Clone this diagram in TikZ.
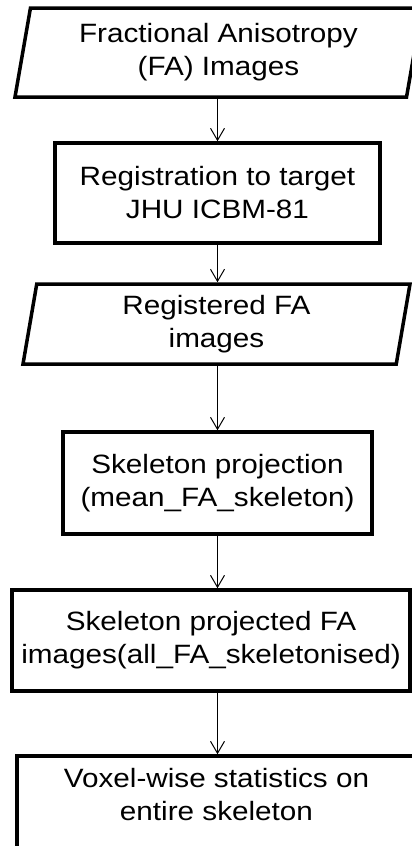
\documentclass[tikz,border=0pt]{standalone}
\usepackage{fontspec}
\setmainfont[FakeStretch=1.12]{Liberation Sans}
\usetikzlibrary{arrows.meta, shapes.geometric}

\begin{document}
\begin{tikzpicture}[x=1pt, y=-1pt,
  font=\fontsize{26.5}{33}\selectfont,
  procbox/.style={draw, line width=3.5pt, align=center, inner sep=0pt},
  databox/.style={trapezium, trapezium stretches body, draw, line width=3.5pt,
    align=center, inner sep=0pt},
  flow/.style={-{Straight Barb[length=12pt, width=14pt]}, line width=1pt}]
  \useasboundingbox (0,0) rectangle (412,846);
  \clip (0,0) rectangle (412,846);
  % input data
  \node[databox, trapezium left angle=75, trapezium right angle=105,
    minimum width=407pt, minimum height=89pt] (fa) at (218.5,52.5)
    {Fractional Anisotropy\\(FA) Images};
  % registration step
  \node[procbox, minimum width=325pt, minimum height=100pt] (reg) at (217.5,193)
    {Registration to target\\JHU ICBM-81};
  \node[databox, trapezium left angle=76.6, trapezium right angle=103.4,
    minimum width=387pt, minimum height=80pt] (regfa) at (216.5,324)
    {Registered FA\\images};
  % skeleton steps
  \node[procbox, minimum width=309pt, minimum height=102pt] (skel) at (217.5,483)
    {Skeleton projection\\(mean\_FA\_skeleton)};
  \node[procbox, minimum width=398pt, minimum height=101pt] (skelfa) at (211,640.5)
    {Skeleton projected FA\\images(all\_FA\_skeletonised)};
  % statistics (box runs off the bottom)
  \node[procbox, minimum width=399pt, minimum height=104pt,
    label={[align=center, yshift=13pt]center:Voxel-wise statistics on\\entire skeleton}]
    (stats) at (216.5,808) {};
  % arrows
  \draw[flow] (fa.south -| reg.north) -- (reg.north);
  \draw[flow] (reg.south) -- (reg.south |- regfa.north);
  \draw[flow] (reg.south |- regfa.south) -- (skel.north);
  \draw[flow] (skel.south) -- (skel.south |- skelfa.north);
  \draw[flow] (skel.south |- skelfa.south) -- (skel.south |- stats.north);
\end{tikzpicture}
\end{document}
